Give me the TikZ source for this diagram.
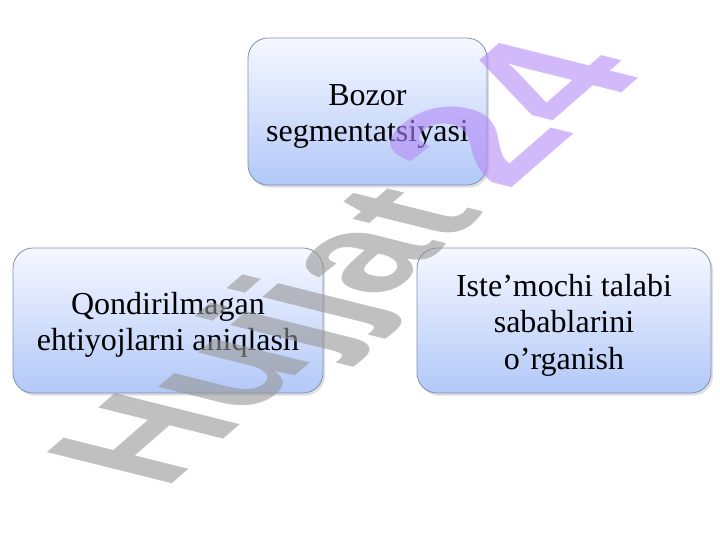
\documentclass[tikz,border=0pt]{standalone}
\usepackage{fontspec}
\setmainfont{Liberation Serif}
\newfontfamily\wmfont{Liberation Sans}
\usetikzlibrary{shadows}

\definecolor{boxtop}{RGB}{246,248,255}
\definecolor{boxbot}{RGB}{178,200,248}
\definecolor{boxedge}{RGB}{130,145,175}
\definecolor{wmgray}{RGB}{150,150,150}
\definecolor{wmpurple}{RGB}{180,138,247}

\tikzset{
  segbox/.style={draw=boxedge, line width=0.6pt, rounded corners=15pt,
    top color=boxtop, bottom color=boxbot, inner sep=0pt,
    drop shadow={shadow xshift=1.5pt, shadow yshift=-2pt, opacity=0.25}},
  segtext/.style={align=center, inner sep=0pt, yshift=-3.5pt,
    font=\fontsize{24}{27.2}\selectfont}
}

\begin{document}
\begin{tikzpicture}[x=0.75pt,y=0.75pt,yscale=-1,xscale=1]
\useasboundingbox (0,0) rectangle (720,540);

% Boxes
\node (bozor) [segbox, minimum width=179.25pt, minimum height=110.25pt] at (367.5,111.5) {};
\node (qondir) [segbox, minimum width=232.5pt, minimum height=108.75pt] at (168,320.5) {};
\node (istemol) [segbox, minimum width=220.5pt, minimum height=108.75pt] at (564,320.5) {};

% Texts
\node (bozortxt) [segtext] at (bozor.center) {Bozor\\segmentatsiyasi};
\node (qondirtxt) [segtext] at (qondir.center) {Qondirilmagan\\ehtiyojlarni aniqlash};
\node (istemoltxt) [segtext] at (istemol.center) {Iste’mochi talabi\\sabablarini\\o’rganish};

% Watermark
\node (wmark) [rotate=41, xslant=-0.7, opacity=0.6, font=\wmfont\bfseries\fontsize{115}{115}\selectfont] at (356,266)
  {\textcolor{wmgray}{Hujjat}\kern 22pt\textcolor{wmpurple}{\fontsize{128}{128}\selectfont 24}};

\end{tikzpicture}
\end{document}
